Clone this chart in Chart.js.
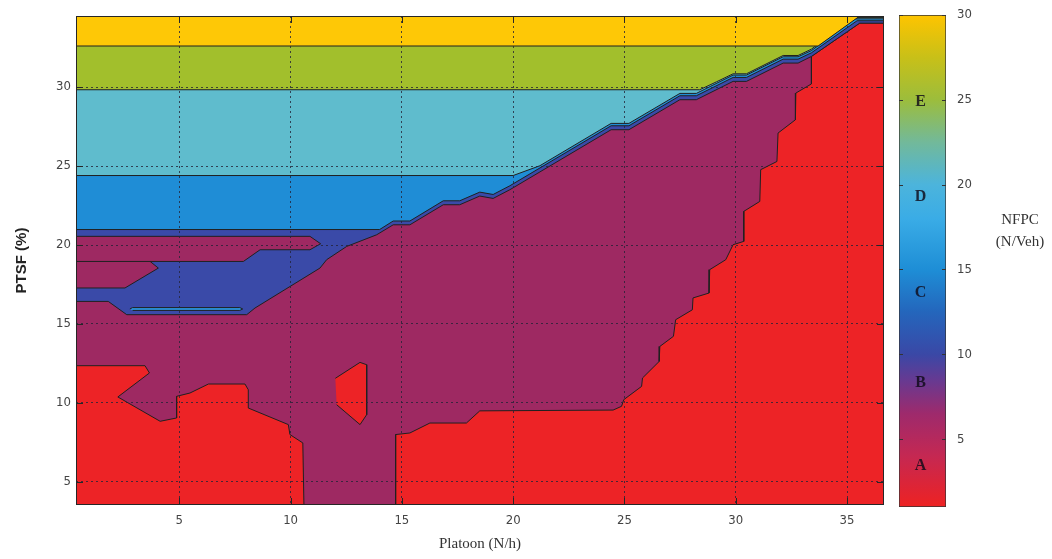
<!DOCTYPE html>
<html>
<head>
<meta charset="utf-8">
<script src="https://cdn.jsdelivr.net/npm/chart.js@4.4.1/dist/chart.umd.min.js"></script>
<style>
  html, body { margin: 0; padding: 0; background: #fff; }
  #wrap { position: relative; width: 1052px; height: 559px; overflow: hidden; }
  #main { position: absolute; left: 0; top: 0; }
  #bar { position: absolute; left: 890px; top: 0; }
  #unit { position: absolute; left: 980px; top: 208px; width: 80px; text-align: center;
          font: 15px 'Liberation Serif', 'Times New Roman', serif; color: #333; line-height: 22px; }
</style>
</head>
<body>
<div id="wrap">
  <canvas id="main" width="890" height="559"></canvas>
  <canvas id="bar" width="110" height="559"></canvas>
  <div id="unit">NFPC<br>(N/Veh)</div>
</div>
<script>
// axes
const xRange = [0.36, 36.66];
const yRange = [3.54, 34.5];
const xTicks = [5, 10, 15, 20, 25, 30, 35];
const yTicks = [5, 10, 15, 20, 25, 30];

// colour bar
const barRange = [1, 30];
const barTicks = [5, 10, 15, 20, 25, 30];
const classNames = ['A', 'B', 'C', 'D', 'E'];
const classAt = [3.4, 8.3, 13.6, 19.3, 24.9];

// contour regions, [platoon, ptsf] outlines
const zoneA = [[0.36, 3.54], [36.66, 3.54], [36.66, 34.5], [0.36, 34.5]];

const zoneB = [
  [0.36, 34.5], [36.66, 34.5], [36.66, 34.05], [35.57, 34.05], [33.4, 31.94], [33.4, 30.2],
  [32.7, 29.62], [32.68, 27.93], [31.9, 27.09], [31.85, 25.29], [31.12, 24.77], [31.08, 22.76],
  [30.36, 22.13], [30.36, 20.23], [29.88, 20.02], [29.55, 19.07], [28.83, 18.44], [28.8, 16.96],
  [28.08, 16.65], [28.05, 15.9], [27.3, 15.27], [27.2, 14.22], [26.59, 13.58], [26.56, 12.63],
  [25.81, 11.58], [25.77, 11.05], [24.97, 10.21], [24.87, 9.79], [24.49, 9.55], [18.5, 9.5],
  [17.9, 8.73], [16.26, 8.73], [15.36, 8.1], [14.72, 8.0], [14.72, 3.54], [10.6, 3.54],
  [10.55, 7.47], [9.97, 8.0], [9.9, 8.63], [8.1, 9.68], [8.1, 10.84], [7.95, 11.2],
  [6.31, 11.2], [5.48, 10.63], [4.88, 10.42], [4.88, 9.05], [4.14, 8.84], [2.24, 10.38],
  [3.66, 11.9], [3.46, 12.36], [0.36, 12.36]
];

const islandA = [[12.01, 11.56], [13.12, 12.57], [13.42, 12.42], [13.42, 9.26], [13.12, 8.63], [12.07, 9.89]];

const zoneC = [
  [0.36, 34.5], [0.36, 20.55], [10.87, 20.55], [11.35, 20.08], [10.87, 19.7], [8.63, 19.7],
  [7.88, 18.96], [3.69, 18.96], [4.06, 18.54], [2.56, 17.28], [0.36, 17.28], [0.36, 16.43],
  [1.81, 16.43], [2.64, 15.59], [8.03, 15.59], [8.4, 16.01], [11.32, 18.54], [11.62, 19.07],
  [12.52, 19.91], [13.87, 20.65], [14.61, 21.28], [15.36, 21.28], [16.86, 22.55], [17.6, 22.55],
  [18.5, 23.1], [19.1, 22.95], [19.85, 23.5], [24.4, 27.3], [25.2, 27.3], [27.49, 29.2],
  [28.23, 29.2], [29.88, 30.36], [30.48, 30.36], [32.13, 31.52], [32.8, 31.52], [33.4, 31.94],
  [35.57, 34.05], [36.66, 34.05], [36.66, 34.5]
];

const sliverD = [[2.9, 15.86], [7.72, 15.86], [7.85, 15.95], [7.72, 16.04], [2.9, 16.04], [2.78, 15.95]];

const zoneD = [
  [0.36, 34.5], [0.36, 20.98], [14.0, 20.98], [14.61, 21.52], [15.36, 21.52], [16.86, 22.8],
  [17.6, 22.8], [18.5, 23.35], [19.1, 23.2], [19.85, 23.75], [24.4, 27.55], [25.2, 27.55],
  [27.49, 29.45], [28.23, 29.45], [29.88, 30.61], [30.48, 30.61], [32.13, 31.77], [32.8, 31.77],
  [33.4, 32.17], [35.45, 34.2], [36.66, 34.2], [36.66, 34.5]
];

const zoneE = [
  [0.36, 34.5], [0.36, 24.4], [20.0, 24.4], [21.2, 25.02], [24.4, 27.7], [25.2, 27.7],
  [27.49, 29.6], [28.23, 29.6], [29.88, 30.76], [30.48, 30.76], [32.13, 31.92], [32.8, 31.92],
  [33.4, 32.31], [35.35, 34.32], [36.66, 34.32], [36.66, 34.5]
];

const zoneF = [
  [0.36, 34.5], [0.36, 29.83], [28.38, 29.83], [29.13, 30.33], [29.88, 30.84], [30.48, 30.84],
  [32.13, 32.0], [32.8, 32.0], [33.4, 32.4], [35.28, 34.4], [36.66, 34.4], [36.66, 34.5]
];

const zoneG = [[0.36, 34.5], [0.36, 32.6], [33.7, 32.6], [35.57, 34.5]];

const splitLine = [[0.36, 18.96], [3.69, 18.96]];

// styling
const narrow = "'Liberation Sans Narrow', 'Arial Narrow', 'DejaVu Sans Condensed', sans-serif";
const serif = "'Liberation Serif', 'Times New Roman', serif";
const edge = '#202020';
const barStops = [
  [1, '#EE2222'], [4, '#C52852'], [6.5, '#9E2A6C'], [8.5, '#663A92'], [10, '#3A48A6'],
  [12.5, '#2466BC'], [15, '#1E8ED6'], [18, '#3AACE6'], [20, '#4CB4DC'], [22.5, '#72B99A'],
  [25, '#9CBD3C'], [27.5, '#C8C018'], [30, '#FEC400']
];

function region(pts, color, order) {
  return {
    data: pts.map(p => ({ x: p[0], y: p[1] })),
    fill: color ? 'shape' : false,
    backgroundColor: color || 'transparent',
    borderColor: edge,
    borderWidth: 1,
    borderJoinStyle: 'round',
    pointRadius: 0,
    tension: 0,
    order: order
  };
}

var framePlugin = {
  id: 'frame',
  afterDraw: function(chart) {
    var ctx = chart.ctx, a = chart.chartArea, sx = chart.scales.x, sy = chart.scales.y;
    ctx.save();
    ctx.strokeStyle = '#262626';
    ctx.lineWidth = 1;
    ctx.strokeRect(a.left + 0.5, a.top + 0.5, a.right - a.left - 1, a.bottom - a.top - 1);
    ctx.beginPath();
    xTicks.forEach(function(v) {
      var px = Math.round(sx.getPixelForValue(v)) + 0.5;
      ctx.moveTo(px, a.bottom); ctx.lineTo(px, a.bottom - 7);
      ctx.moveTo(px, a.top); ctx.lineTo(px, a.top + 7);
    });
    yTicks.forEach(function(v) {
      var py = Math.round(sy.getPixelForValue(v)) + 0.5;
      ctx.moveTo(a.left, py); ctx.lineTo(a.left + 7, py);
      ctx.moveTo(a.right, py); ctx.lineTo(a.right - 7, py);
    });
    ctx.stroke();
    ctx.restore();
  }
};

new Chart(document.getElementById('main'), {
  type: 'line',
  data: {
    datasets: [
      region(zoneA, '#ED2326', 20),
      region(zoneB, '#9E2962', 19),
      region(islandA, '#ED2326', 18),
      region(zoneC, '#3A4AA8', 17),
      region(sliverD, '#2A92D8', 16),
      region(zoneD, '#1F8DD6', 15),
      region(zoneE, '#5FBCCD', 14),
      region(zoneF, '#A2BF2C', 13),
      region(zoneG, '#FEC806', 12),
      region(splitLine, null, 11)
    ]
  },
  options: {
    responsive: false,
    animation: false,
    layout: { padding: { top: 16, right: 6, left: 0, bottom: 0 } },
    plugins: { legend: { display: false }, tooltip: { enabled: false } },
    scales: {
      x: {
        type: 'linear', min: xRange[0], max: xRange[1],
        afterBuildTicks: function(s) { s.ticks = xTicks.map(function(v) { return { value: v }; }); },
        afterFit: function(s) { s.height = 54; },
        grid: { color: 'rgba(35,35,55,0.8)', lineWidth: 1, drawTicks: false, z: 1 },
        border: { display: false, dash: [2, 3] },
        ticks: { padding: 8, color: '#444', font: { family: narrow, size: 13 }, maxRotation: 0, autoSkip: false },
        title: { display: true, text: 'Platoon (N/h)', color: '#333', font: { family: serif, size: 15 }, padding: 6 }
      },
      y: {
        type: 'linear', min: yRange[0], max: yRange[1],
        afterBuildTicks: function(s) { s.ticks = yTicks.map(function(v) { return { value: v }; }); },
        afterFit: function(s) { s.width = 76; },
        grid: { color: 'rgba(35,35,55,0.8)', lineWidth: 1, drawTicks: false, z: 1 },
        border: { display: false, dash: [2, 3] },
        ticks: { padding: 5, color: '#444', font: { family: narrow, size: 13 }, autoSkip: false },
        title: { display: true, text: 'PTSF (%)', color: '#222', font: { family: 'Liberation Sans, Arial, sans-serif', size: 15, weight: 'bold' }, padding: 13 }
      }
    }
  },
  plugins: [framePlugin]
});

var barMarks = {
  id: 'barMarks',
  afterDraw: function(chart) {
    var ctx = chart.ctx, a = chart.chartArea, sy = chart.scales.y;
    ctx.save();
    ctx.strokeStyle = '#333';
    ctx.lineWidth = 1;
    ctx.beginPath();
    barTicks.forEach(function(v) {
      var py = Math.round(sy.getPixelForValue(v)) + 0.5;
      ctx.moveTo(a.left, py); ctx.lineTo(a.left + 4, py);
      ctx.moveTo(a.right, py); ctx.lineTo(a.right - 4, py);
    });
    ctx.stroke();
    ctx.fillStyle = 'rgba(15,10,25,0.82)';
    ctx.font = 'bold 16px ' + serif;
    ctx.textAlign = 'center';
    ctx.textBaseline = 'middle';
    classNames.forEach(function(n, i) {
      ctx.fillText(n, (a.left + a.right) / 2 - 2, sy.getPixelForValue(classAt[i]));
    });
    ctx.restore();
  }
};

new Chart(document.getElementById('bar'), {
  type: 'bar',
  data: {
    labels: [''],
    datasets: [{
      data: [barRange],
      backgroundColor: function(c) {
        var chart = c.chart;
        if (!chart.chartArea) return '#888';
        var sy = chart.scales.y;
        var g = chart.ctx.createLinearGradient(0, sy.getPixelForValue(barRange[0]), 0, sy.getPixelForValue(barRange[1]));
        barStops.forEach(function(s) {
          g.addColorStop((s[0] - barRange[0]) / (barRange[1] - barRange[0]), s[1]);
        });
        return g;
      },
      borderColor: '#333',
      borderWidth: 1,
      borderSkipped: false,
      barPercentage: 1,
      categoryPercentage: 1
    }]
  },
  options: {
    responsive: false,
    animation: false,
    layout: { padding: { top: 15, right: 0, left: 9, bottom: 52 } },
    plugins: { legend: { display: false }, tooltip: { enabled: false } },
    scales: {
      x: { display: false },
      y: {
        position: 'right', min: barRange[0], max: barRange[1],
        afterBuildTicks: function(s) { s.ticks = barTicks.map(function(v) { return { value: v }; }); },
        afterFit: function(s) { s.width = 54; },
        grid: { display: false },
        border: { display: false },
        ticks: { padding: 3, color: '#444', font: { family: narrow, size: 13 } }
      }
    }
  },
  plugins: [barMarks]
});
</script>
</body>
</html>
